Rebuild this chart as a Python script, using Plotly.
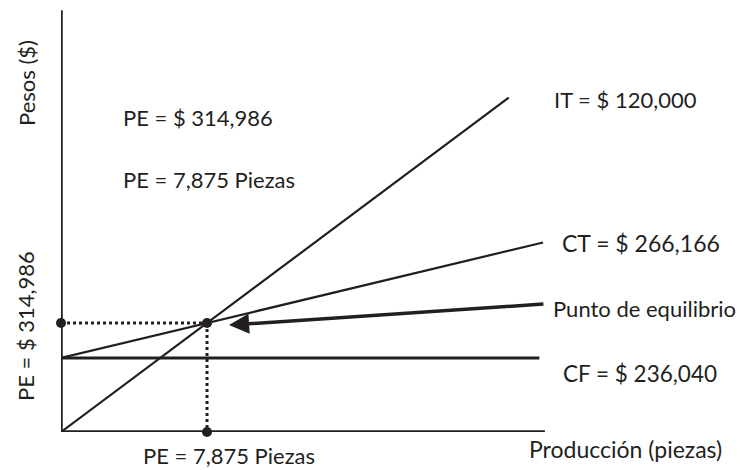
import plotly.graph_objects as go

# ---- data (units: pieces on x, pesos on y) ----
PE_X = 7875          # pieces
PE_Y = 314986        # pesos
CF_Y = 213860        # fixed-cost level as drawn
IT_X = [0, 24150]
IT_Y = [0, 966000]
CT_X = [0, 26000]
CT_Y = [CF_Y, 547700]
CF_X = [0, 25800]
CF_YS = [CF_Y, CF_Y]
AXIS_X_END = 26100
AXIS_Y_END = 1219000
ARROW_FROM = (26100, 369900)
ARROW_TO = (9060, 309000)

labels = {
    "it": "IT = $ 120,000",
    "ct": "CT = $ 266,166",
    "pe_pt": "Punto de equilibrio",
    "cf": "CF = $ 236,040",
    "prod": "Producción (piezas)",
    "pesos": "Pesos ($)",
    "pe_money": "PE = $ 314,986",
    "pe_pieces": "PE = 7,875 Piezas",
}

INK = "#231f20"
FONT = "Lato"

# page has an 8px body margin; compensate in the figure size and margins
OFF = 8
L, T = 61 - OFF, 10 - OFF
PW, PH = 686, 422
W, H = 747 - OFF, 470 - OFF
R = W - L - PW
B = H - T - PH

fig = go.Figure()

def line(x, y, w, dash="solid"):
    fig.add_trace(go.Scatter(x=x, y=y, mode="lines",
                             line=dict(color=INK, width=w, dash=dash),
                             hoverinfo="skip", showlegend=False, cliponaxis=False))

# axes
line([0, 0], [0, AXIS_Y_END], 3.5)
line([0, AXIS_X_END], [0, 0], 3.5)
# revenue, cost, fixed cost
line(IT_X, IT_Y, 2.2)
line(CT_X, CT_Y, 2.2)
line(CF_X, CF_YS, 3)
# dotted guides
line([0, PE_X], [PE_Y, PE_Y], 3, "dot")
line([PE_X, PE_X], [PE_Y, 0], 3, "dot")
# markers
fig.add_trace(go.Scatter(x=[0, PE_X, PE_X], y=[PE_Y, PE_Y, 0], mode="markers",
                         marker=dict(color=INK, size=10), hoverinfo="skip",
                         showlegend=False, cliponaxis=False))

# arrow
fig.add_annotation(x=ARROW_TO[0], y=ARROW_TO[1], ax=ARROW_FROM[0], ay=ARROW_FROM[1],
                   xref="x", yref="y", axref="x", ayref="y", text="",
                   showarrow=True, arrowhead=2, arrowsize=1.15, arrowwidth=3.5,
                   arrowcolor=INK, standoff=0)

# reference-pixel -> paper helpers for label placement
def px(x): return (x - 61) / PW
def py(y): return (432 - y) / PH

def text(t, x, y, fs=22, xanchor="left", angle=0):
    fig.add_annotation(x=px(x), y=py(y), xref="paper", yref="paper", text=t,
                       showarrow=False, xanchor=xanchor, yanchor="middle",
                       textangle=angle, borderpad=0,
                       font=dict(family=FONT, size=fs, color=INK))

text(labels["it"], 553, 99)
text(labels["ct"], 561, 243, fs=23)
text(labels["pe_pt"], 552, 308, fs=22)
text(labels["cf"], 562, 373, fs=22.5)
text(labels["prod"], 528, 449, fs=23)
text(labels["pe_pieces"], 142, 455)
text(labels["pe_money"], 122, 118)
text(labels["pe_pieces"], 122, 179)
text(labels["pesos"], 27, 83, xanchor="center", angle=-90)
text(labels["pe_money"], 25, 326, xanchor="center", angle=-90)

fig.update_xaxes(range=[0, 37000], visible=False, showgrid=False, zeroline=False)
fig.update_yaxes(range=[0, 1219500], visible=False, showgrid=False, zeroline=False)
fig.update_layout(width=W, height=H, margin=dict(l=L, r=R, t=T, b=B),
                  plot_bgcolor="white", paper_bgcolor="white")

fig.write_html("out.html")
